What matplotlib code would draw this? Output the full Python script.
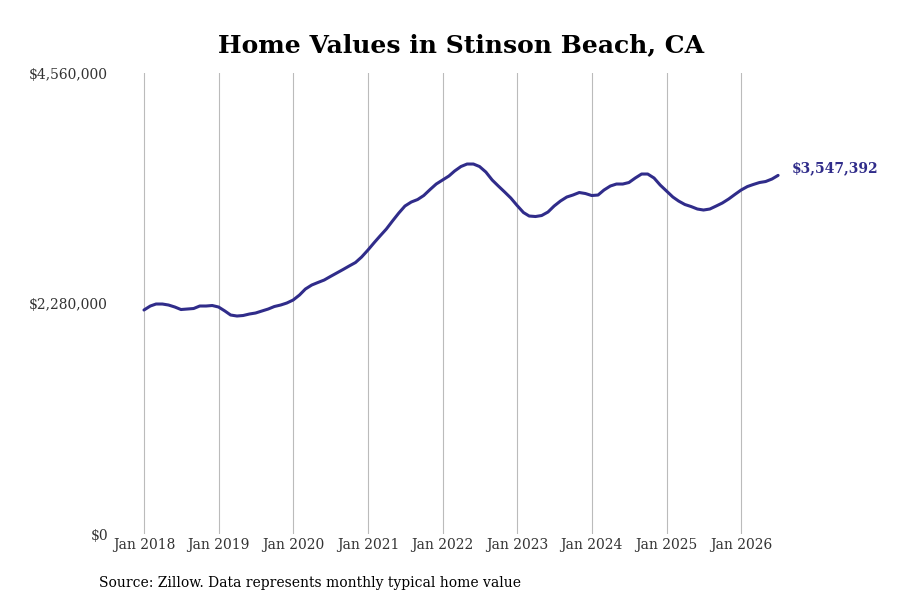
import pandas as pd
import matplotlib
matplotlib.use("Agg")
import matplotlib.pyplot as plt
import matplotlib.dates as mdates
from matplotlib.ticker import FuncFormatter

# monthly typical home value, Jan 2018 - Jul 2026
values = [
    2215700, 2255200, 2275000, 2275000, 2265100, 2245300,
    2220600, 2225500, 2230500, 2255200, 2255200, 2260200,
    2245300, 2205800, 2166200, 2156300, 2161300, 2176100,
    2186000, 2205800, 2225500, 2250300, 2265100, 2284900,
    2314600, 2364000, 2423400, 2462900, 2487700, 2512400,
    2547000, 2581600, 2616200, 2650900, 2685500, 2739900,
    2809100, 2883300, 2947600, 3016800, 3096000, 3175100,
    3244300, 3283900, 3308600, 3348200, 3407500, 3461900,
    3501500, 3541000, 3590500, 3635000, 3659800, 3659800,
    3635000, 3580600, 3501500, 3442200, 3382800, 3323500,
    3249300, 3180000, 3145400, 3140500, 3150400, 3185000,
    3244300, 3293800, 3333400, 3353100, 3377900, 3368000,
    3348200, 3353100, 3402600, 3442200, 3461900, 3461900,
    3476800, 3521300, 3560900, 3560900, 3521300, 3452000,
    3392700, 3333400, 3293800, 3259200, 3239400, 3214700,
    3204800, 3214700, 3244300, 3274000, 3313600, 3358100,
    3402600, 3437200, 3457000, 3476800, 3486700, 3511400,
    3547392,
]
dates = pd.date_range("2018-01-01", periods=len(values), freq="MS")
y_ticks = [0, 2280000, 4560000]
year_ticks = pd.date_range("2018-01-01", "2026-01-01", freq="YS")

line_color = "#302c8a"
plt.rcParams["font.family"] = ["DejaVu Serif"]

fig = plt.figure(figsize=(9, 6), dpi=100)
ax = fig.add_axes([0.13, 0.11, 0.74, 0.7683])

ax.plot(dates, values, color=line_color, linewidth=2.2, solid_capstyle="round")

ax.set_ylim(0, 4560000)
ax.set_xlim(pd.Timestamp("2017-08-22"), pd.Timestamp("2026-07-25"))
ax.set_yticks(y_ticks)
ax.yaxis.set_major_formatter(FuncFormatter(lambda v, p: f"${v:,.0f}"))
ax.set_xticks(year_ticks)
ax.xaxis.set_major_formatter(mdates.DateFormatter("Jan %Y"))
ax.tick_params(axis="both", length=0, labelsize=10, colors="#333333")
ax.tick_params(axis="x", pad=3)
ax.tick_params(axis="y", pad=6.5)

ax.grid(axis="x", color="#bbbbbb", linewidth=0.8)
ax.grid(axis="y", visible=False)
for s in ax.spines.values():
    s.set_visible(False)

# last value label
ax.annotate(f"${values[-1]:,}", xy=(dates[-1], values[-1]), xytext=(10, 5),
            textcoords="offset points", color=line_color, fontsize=10,
            fontweight="bold", va="center", ha="left", annotation_clip=False)

fig.text(0.512, 0.925, "Home Values in Stinson Beach, CA", ha="center", va="center",
         fontsize=18, fontweight="bold")
fig.text(0.11, 0.029, "Source: Zillow. Data represents monthly typical home value",
         ha="left", va="center", fontsize=10)

fig.savefig("out.png", dpi=100)
